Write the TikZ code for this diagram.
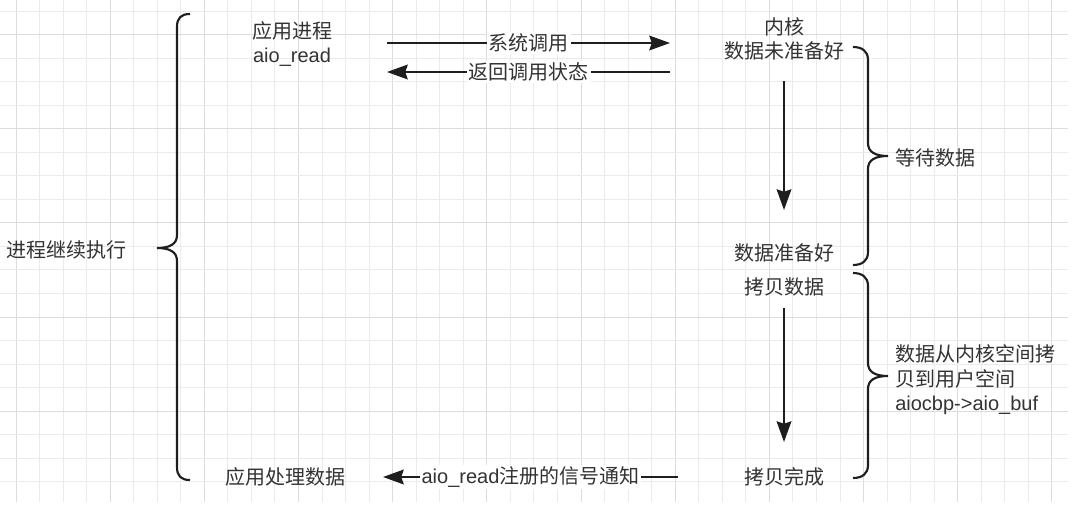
\documentclass[tikz,border=0pt]{standalone}
\usepackage{fontspec}
\setmainfont{Liberation Sans}
\newfontfamily\cjk{Noto Sans CJK SC}
\usetikzlibrary{arrows.meta}
\definecolor{txt}{HTML}{333333}
\definecolor{ln}{HTML}{1E1E1E}
\definecolor{gminor}{HTML}{EBEBEB}
\definecolor{gmajor}{HTML}{DCDCDC}
\begin{document}
\begin{tikzpicture}[x=0.75pt,y=-0.75pt,
  lbl/.style={inner sep=0pt, text=txt, font=\fontsize{15pt}{18.4pt}\selectfont},
  conn/.style={draw=ln, line width=1.6pt, -{Stealth[length=15.5pt,width=11pt,inset=1.8pt]}},
  bracepath/.style={draw=ln, line width=1.6pt},
  edgelbl/.style={fill=white, inner xsep=1.5pt, inner ysep=1pt, text=txt, font=\fontsize{15pt}{18.4pt}\selectfont\cjk},
  gridminor/.style={draw=gminor, line width=0.75pt},
  gridmajor/.style={draw=gmajor, line width=0.75pt}]
\useasboundingbox (0,0) rectangle (1083,507);
\fill[white] (0,0) rectangle (1083,507);
% grid
\foreach \i in {0,...,44}{
  \pgfmathsetmacro\xx{16+23.545*\i}
  \pgfmathtruncatemacro\mm{mod(\i,4)}
  \ifnum\mm=0 \draw[gridmajor] (\xx,0) -- (\xx,502);
  \else \draw[gridminor] (\xx,0) -- (\xx,502); \fi
}
\foreach \j in {0,...,20}{
  \pgfmathsetmacro\yy{11+23.545*\j}
  \pgfmathtruncatemacro\mm{mod(\j,4)}
  \ifnum\mm=1 \draw[gridmajor] (0,\yy) -- (1068,\yy);
  \else \draw[gridminor] (0,\yy) -- (1068,\yy); \fi
}
% text nodes
\node[lbl, align=center] (app) at (292,44) {{\cjk 应用进程}\\aio\_read};
\node[lbl, align=center] (kern) at (784,39) {{\cjk 内核}\\{\cjk 数据未准备好}};
\node[lbl] (ready) at (784,253) {\cjk 数据准备好};
\node[lbl] (copy) at (784,287) {\cjk 拷贝数据};
\node[lbl] (done) at (784,477) {\cjk 拷贝完成};
\node[lbl] (proc) at (285,477) {\cjk 应用处理数据};
\node[lbl] (cont) at (67,250) {\cjk 进程继续执行};
\node[lbl, anchor=west] (wait) at (895,158) {\cjk 等待数据};
\node[lbl, anchor=west, align=left] (cpdesc) at (895,380) {{\cjk 数据从内核空间拷}\\{\cjk 贝到用户空间}\\aiocbp->aio\_buf};
% connector end points
\coordinate (s1) at (387,43);  \coordinate (e1) at (670,43);
\coordinate (s2) at (670,72);  \coordinate (e2) at (387,72);
\coordinate (s3) at (784,81);  \coordinate (e3) at (784,210);
\coordinate (s4) at (784,308); \coordinate (e4) at (784,442);
\coordinate (s5) at (678,477); \coordinate (e5) at (383,477);
% connectors
\draw[conn] (s1) -- node[edgelbl] {系统调用} (e1);
\draw[conn] (s2) -- node[edgelbl] {返回调用状态} (e2);
\draw[conn] (s3) -- (e3);
\draw[conn] (s4) -- (e4);
\draw[conn] (s5) -- node[edgelbl] {{\rmfamily aio\_read}注册的信号通知} (e5);
% braces
\draw[bracepath] (190,14) .. controls (181,14) and (177,18) .. (177,27) -- (177,235)
  .. controls (177,244) and (170,248) .. (157,248)
  .. controls (170,248) and (177,252) .. (177,261) -- (177,467)
  .. controls (177,476) and (181,480) .. (190,480);
\draw[bracepath] (853,47) .. controls (862,47) and (868,51) .. (868,60) -- (868,143)
  .. controls (868,152) and (875,156) .. (888,156)
  .. controls (875,156) and (868,160) .. (868,169) -- (868,252)
  .. controls (868,261) and (862,265) .. (853,265);
\draw[bracepath] (853,273) .. controls (862,273) and (868,277) .. (868,286) -- (868,363)
  .. controls (868,372) and (875,376) .. (888,376)
  .. controls (875,376) and (868,380) .. (868,389) -- (868,465)
  .. controls (868,474) and (862,478) .. (853,478);
\end{tikzpicture}
\end{document}
